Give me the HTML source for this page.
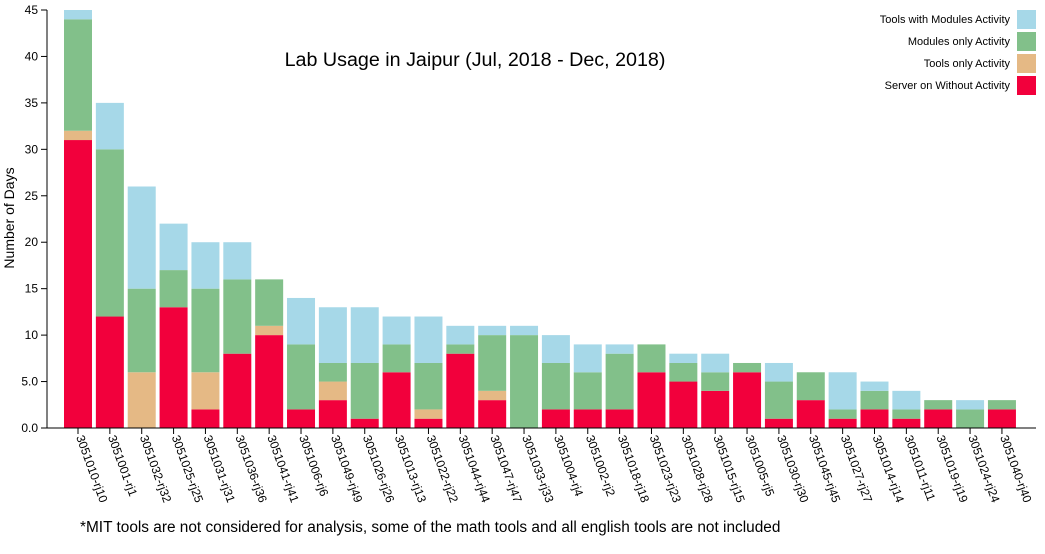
<!DOCTYPE html>
<html><head><meta charset="utf-8"><style>
body{margin:0;background:#fff;font-family:"Liberation Sans",sans-serif}
svg text{font-family:"Liberation Sans",sans-serif}
</style></head><body>
<svg id="chart" width="1045" height="549" xmlns="http://www.w3.org/2000/svg">
<text x="475" y="66" text-anchor="middle" font-size="19.7" fill="#000">Lab Usage in Jaipur (Jul, 2018 - Dec, 2018)</text>
<text transform="translate(14,218) rotate(-90)" text-anchor="middle" font-size="14">Number of Days</text>
<text x="80" y="532" font-size="15.4">*MIT tools are not considered for analysis, some of the math tools and all english tools are not included</text>
<g id="bars"></g><g id="axes"></g><g id="legend"></g>
</svg>
<script>
const categories=["3051010-rj10","3051001-rj1","3051032-rj32","3051025-rj25","3051031-rj31","3051036-rj36","3051041-rj41","3051006-rj6","3051049-rj49","3051026-rj26","3051013-rj13","3051022-rj22","3051044-rj44","3051047-rj47","3051033-rj33","3051004-rj4","3051002-rj2","3051018-rj18","3051023-rj23","3051028-rj28","3051015-rj15","3051005-rj5","3051030-rj30","3051045-rj45","3051027-rj27","3051014-rj14","3051011-rj11","3051019-rj19","3051024-rj24","3051040-rj40"];
const serverOnly=[31,12,0,13,2,8,10,2,3,1,6,1,8,3,0,2,2,2,6,5,4,6,1,3,1,2,1,2,0,2];
const toolsOnly=[1,0,6,0,4,0,1,0,2,0,0,1,0,1,0,0,0,0,0,0,0,0,0,0,0,0,0,0,0,0];
const modulesOnly=[12,18,9,4,9,8,5,7,2,6,3,5,1,6,10,5,4,6,3,2,2,1,4,3,1,2,1,1,2,1];
const toolsWithModules=[1,5,11,5,5,4,0,5,6,6,3,5,2,1,1,3,3,1,0,1,2,0,2,0,4,1,2,0,1,0];
const yTicks=[0,5,10,15,20,25,30,35,40,45];
const yTickLabels=["0.0","5.0","10","15","20","25","30","35","40","45"];
const seriesNames=["Tools with Modules Activity","Modules only Activity","Tools only Activity","Server on Without Activity"];
const NS="http://www.w3.org/2000/svg";
const y0=428,y1=10,yMax=45;
function y(v){return y0-(v/yMax)*(y0-y1);}
const step=31.86,bw=28,xs=64;
function x(i){return xs+i*step;}
function mk(t,a,p){const e=document.createElementNS(NS,t);for(const k in a)e.setAttribute(k,a[k]);p.appendChild(e);return e;}
const bars=document.getElementById('bars');
const series=[serverOnly,toolsOnly,modulesOnly,toolsWithModules];
const colors=["#f2003c","#e5b985","#82c08a","#a6d8e8"];
const snames=["server","tools","modules","tools-modules"];
categories.forEach((c,i)=>{let acc=0;series.forEach((s,k)=>{const v=s[i];if(v>0){const r=mk('rect',{x:x(i),y:y(acc+v),width:bw,height:y(acc)-y(acc+v),fill:colors[k]},bars);

}acc+=v;});});
const ax=document.getElementById('axes');
const yl=mk('line',{x1:47,y1:y1,x2:47,y2:y0,stroke:'#000'},ax);


const xl=mk('line',{x1:47,y1:y0,x2:1036,y2:y0,stroke:'#000'},ax);


yTicks.forEach((t,i)=>{mk('line',{x1:41,x2:47,y1:y(t),y2:y(t),stroke:'#000'},ax);const tx=mk('text',{x:38,y:y(t)+4,'text-anchor':'end','font-size':12},ax);tx.textContent=yTickLabels[i];

});
categories.forEach((c,i)=>{const cx=x(i)+bw/2;mk('line',{x1:cx,x2:cx,y1:y0,y2:y0+6,stroke:'#000'},ax);const tx=mk('text',{transform:`translate(${cx-2},${y0+9}) rotate(70)`,'font-size':12},ax);tx.textContent=c;

});
const lg=document.getElementById('legend');
const lcol=["#a6d8e8","#82c08a","#e5b985","#f2003c"];
seriesNames.forEach((n,i)=>{const yy=10+i*22;mk('rect',{x:1017,y:yy,width:19,height:19,fill:lcol[i]},lg);const t=mk('text',{x:1010,y:yy+13,'text-anchor':'end','font-size':11},lg);t.textContent=n;

});
</script>
</body></html>
